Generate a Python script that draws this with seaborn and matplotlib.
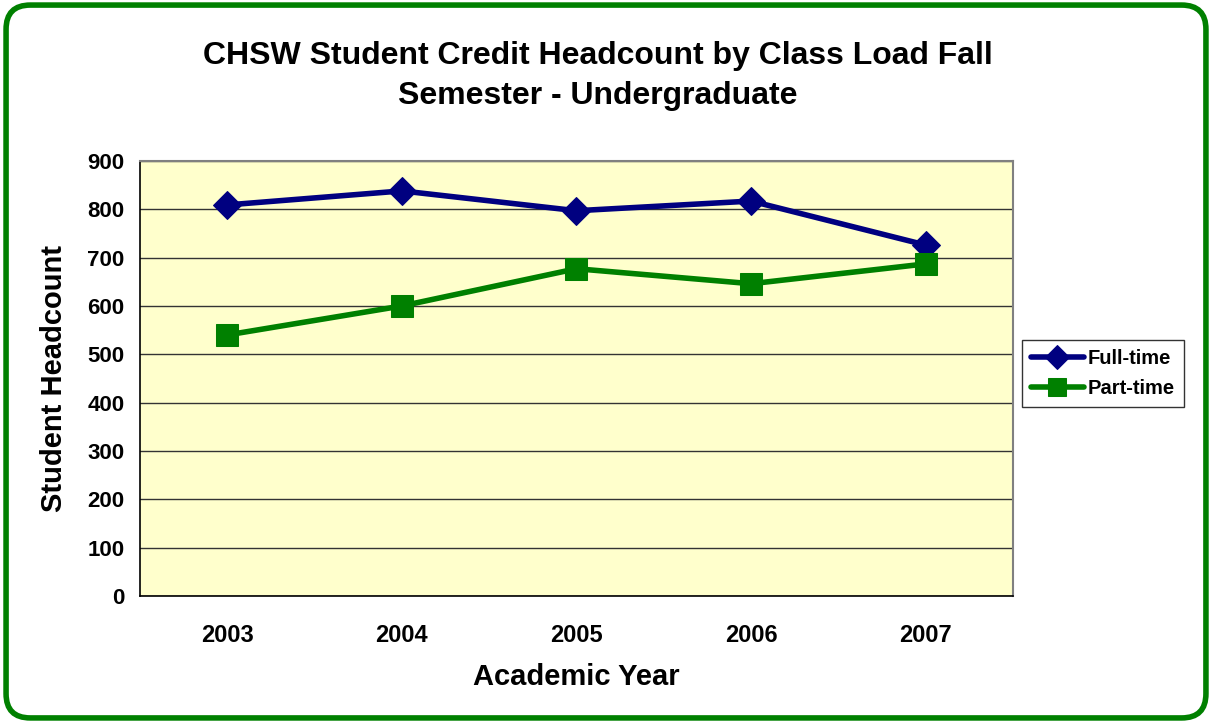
import pandas as pd
import seaborn as sns
import matplotlib.pyplot as plt
from matplotlib.patches import FancyBboxPatch

years = ["2003", "2004", "2005", "2006", "2007"]
full_time = [809, 838, 797, 817, 726]
part_time = [540, 600, 677, 646, 687]
y_ticks = [0, 100, 200, 300, 400, 500, 600, 700, 800, 900]

df = pd.DataFrame({
    "pos": list(range(len(years))) * 2,
    "Headcount": full_time + part_time,
    "Load": ["Full-time"] * len(years) + ["Part-time"] * len(years),
})

sns.set_style("white")
plt.rcParams["font.family"] = ["Liberation Sans", "DejaVu Sans"]
plt.rcParams["text.color"] = "black"
plt.rcParams["axes.labelcolor"] = "black"
plt.rcParams["xtick.color"] = "black"
plt.rcParams["ytick.color"] = "black"

fig = plt.figure(figsize=(12.12, 7.23), dpi=100)
ax = fig.add_axes([0.1155, 0.1757, 0.7203, 0.6017])
ax.set_facecolor("#FFFFCC")

colors = {"Full-time": "#000080", "Part-time": "#008000"}
markers = {"Full-time": "D", "Part-time": "s"}
sizes = {"Full-time": 14, "Part-time": 16}
for name in ["Full-time", "Part-time"]:
    sub = df[df["Load"] == name]
    sns.lineplot(data=sub, x="pos", y="Headcount", ax=ax, color=colors[name],
                 marker=markers[name], markersize=sizes[name], linewidth=4,
                 markeredgecolor=colors[name], label=name, zorder=3)

ax.set_xlim(-0.5, len(years) - 0.5)
ax.set_ylim(0, 900)
ax.set_yticks(y_ticks)
ax.set_yticklabels([str(v) for v in y_ticks], fontsize=16, fontweight="bold")
ax.set_xticks([i - 0.5 for i in range(len(years) + 1)])
ax.set_xticklabels([])
ax.set_xticks(range(len(years)), minor=True)
ax.set_xticklabels(years, minor=True, fontsize=17, fontweight="bold")
ax.tick_params(axis="x", which="major", length=7, width=1, color="black", direction="out")
ax.tick_params(axis="x", which="minor", length=0, pad=20)
ax.tick_params(axis="y", length=7, width=1, color="black", direction="out", pad=4)
ax.yaxis.grid(True, color="#333333", linewidth=1)
ax.set_axisbelow(True)

for side in ["top", "right"]:
    ax.spines[side].set_color("#808080")
    ax.spines[side].set_linewidth(1.5)
for side in ["left", "bottom"]:
    ax.spines[side].set_color("black")
    ax.spines[side].set_linewidth(1.2)

ax.set_xlabel("Academic Year", fontsize=21, fontweight="bold", labelpad=12)
ax.set_ylabel("Student Headcount", fontsize=21, fontweight="bold", labelpad=14)

fig.text(0.493, 0.895, "CHSW Student Credit Headcount by Class Load Fall\nSemester - Undergraduate",
         ha="center", va="center", fontsize=23, fontweight="bold", linespacing=1.45)

leg = ax.legend(loc="center left", bbox_to_anchor=(0.835, 0.483), bbox_transform=fig.transFigure,
                frameon=True, fancybox=False, edgecolor="black", prop={"size": 14.5, "weight": "bold"},
                handlelength=2.6, handletextpad=0.2, borderpad=0.45, labelspacing=0.55,
                markerscale=0.85)
leg.get_frame().set_linewidth(1)

border = FancyBboxPatch((0.005, 0.007), 0.99, 0.986, boxstyle="round,pad=0,rounding_size=0.02",
                        transform=fig.transFigure, facecolor="none", edgecolor="#008000",
                        linewidth=4, mutation_aspect=1.676)
fig.patches.append(border)

fig.savefig("out.png", dpi=100, facecolor="white")
